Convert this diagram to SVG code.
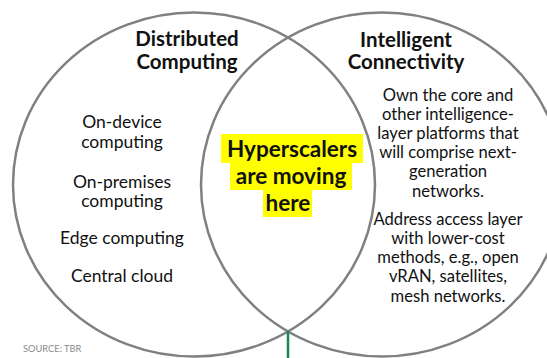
<svg xmlns="http://www.w3.org/2000/svg" width="547" height="358" viewBox="0 0 547 358">
<style>
.c{fill:none;stroke:#808080;stroke-width:2.5}
text{font-family:Lato,"Open Sans","Liberation Sans",sans-serif;fill:#111;text-anchor:middle}
.h{font-weight:bold;font-size:20.5px}
.l{font-size:17.5px}
.r{font-size:16.6px}
.y{font-weight:bold;font-size:22.5px}
.s{font-size:9.3px;fill:#8a8a8a;text-anchor:start}
.hl{fill:#ffff00}
</style>
<rect width="547" height="358" fill="#fff"/>
<g id="circle-distributed">
<ellipse class="c" cx="194" cy="184.5" rx="181" ry="172"/>
<text class="h" x="187" y="46">Distributed</text>
<text class="h" x="187" y="69">Computing</text>
<text class="l" x="122" y="128">On-device</text>
<text class="l" x="122" y="148">computing</text>
<text class="l" x="122" y="188">On-premises</text>
<text class="l" x="122" y="207">computing</text>
<text class="l" x="122" y="244">Edge computing</text>
<text class="l" x="122" y="282">Central cloud</text>
</g>
<g id="circle-connectivity">
<ellipse class="c" cx="382" cy="184.5" rx="181" ry="172"/>
<text class="h" x="406" y="47">Intelligent</text>
<text class="h" x="406" y="69">Connectivity</text>
<text class="r" x="448" y="101">Own the core and</text>
<text class="r" x="448" y="120">other intelligence-</text>
<text class="r" x="448" y="139">layer platforms that</text>
<text class="r" x="448" y="158">will comprise next-</text>
<text class="r" x="448" y="177">generation</text>
<text class="r" x="448" y="197">networks.</text>
<text class="r" x="448" y="225">Address access layer</text>
<text class="r" x="448" y="244">with lower-cost</text>
<text class="r" x="448" y="263">methods, e.g., open</text>
<text class="r" x="448" y="282">vRAN, satellites,</text>
<text class="r" x="448" y="302">mesh networks.</text>
</g>
<g id="overlap">
<rect class="hl" x="221" y="134" width="142" height="29"/>
<rect class="hl" x="230" y="163" width="122" height="27"/>
<rect class="hl" x="263" y="190" width="49" height="27"/>
<text class="y" x="292" y="157">Hyperscalers</text>
<text class="y" x="291" y="184">are moving</text>
<text class="y" x="288" y="211">here</text>
</g>
<g id="connectors">
<line x1="288" y1="331" x2="288" y2="358" stroke="#138a4e" stroke-width="2.5"/>
</g>
<text class="s" x="23" y="352">SOURCE: TBR</text>
</svg>
